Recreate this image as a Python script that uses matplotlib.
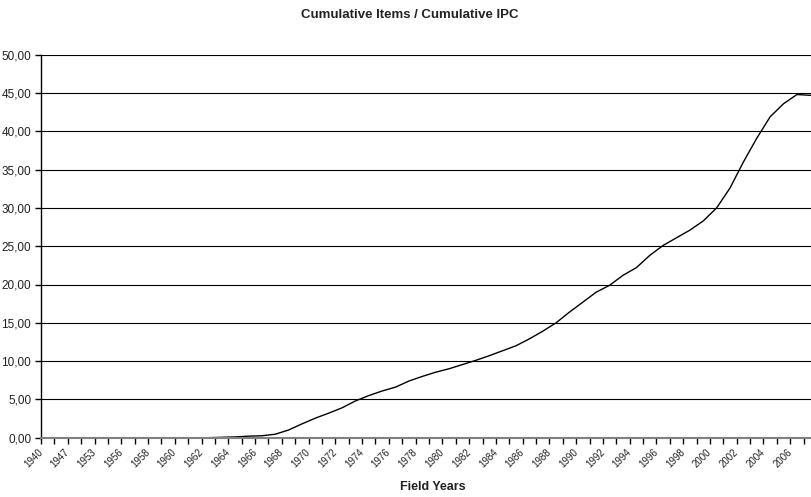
import numpy as np
import matplotlib
matplotlib.use("Agg")
import matplotlib.pyplot as plt
import matplotlib.transforms as mtransforms
from matplotlib.ticker import FixedLocator, FuncFormatter, NullFormatter

plt.rcParams['font.family'] = ['Liberation Sans', 'DejaVu Sans']

# Field years (category axis) and the cumulative ratio per year
years = [1940, 1945, 1947, 1950, 1953, 1955, 1956, 1957, 1958, 1959,
         1960, 1961, 1962, 1963, 1964, 1965, 1966, 1967, 1968, 1969,
         1970, 1971, 1972, 1973, 1974, 1975, 1976, 1977, 1978, 1979,
         1980, 1981, 1982, 1983, 1984, 1985, 1986, 1987, 1988, 1989,
         1990, 1991, 1992, 1993, 1994, 1995, 1996, 1997, 1998, 1999,
         2000, 2001, 2002, 2003, 2004, 2005, 2006, 2007]

ratio = [None] * 12 + [
    0.00, 0.05, 0.10, 0.20, 0.25, 0.45, 1.00, 1.80, 2.55, 3.20,
    3.90, 4.80, 5.50, 6.10, 6.60, 7.40, 8.00, 8.55, 9.00, 9.55,
    10.10, 10.70, 11.35, 12.00, 12.90, 13.90, 15.00, 16.40, 17.70, 19.00,
    19.90, 21.20, 22.20, 23.80, 25.10, 26.10, 27.10, 28.30, 30.00, 32.60,
    36.00, 39.10, 41.90, 43.60, 44.80, 44.70]

y = np.array([np.nan if v is None else v for v in ratio], dtype=float)
x = np.arange(len(years))

fig = plt.figure(figsize=(8.12, 4.97), dpi=100)
ax = fig.add_axes([41 / 812, 1 - 437.7 / 497, 776 / 812, 383 / 497])

ax.plot(x, y, color='black', lw=1.0)

ax.set_xlim(-0.5, len(years) - 0.5)
ax.set_ylim(0, 50)

# horizontal gridlines
ax.set_yticks(np.arange(0, 50.1, 5))
ax.yaxis.set_major_formatter(FuncFormatter(lambda v, p: f"{v:.2f}".replace('.', ',')))
ax.grid(axis='y', color='black', lw=0.8)
ax.set_axisbelow(True)

# category labels on every second year, tick marks between categories
ax.xaxis.set_major_locator(FixedLocator(x[::2]))
ax.set_xticklabels([str(yv) for yv in years[::2]], rotation=45, ha='right', va='top')
ax.xaxis.set_minor_locator(FixedLocator(np.arange(len(years) + 1) - 0.5))
ax.xaxis.set_minor_formatter(NullFormatter())
ax.tick_params(axis='x', which='major', length=0, pad=6.5, labelsize=7, colors='#222222')
ax.tick_params(axis='x', which='minor', length=4, width=1, color='black')
ax.tick_params(axis='y', length=4, width=1, labelsize=8.5, colors='black',
               labelcolor='#222222', pad=3)

shift = mtransforms.ScaledTranslation(-3 / 100, 0, fig.dpi_scale_trans)
for lbl in ax.get_xticklabels():
    lbl.set_transform(lbl.get_transform() + shift)

for s in ('top', 'right'):
    ax.spines[s].set_visible(False)
ax.spines['left'].set_color('black')
ax.spines['left'].set_linewidth(1)
ax.spines['bottom'].set_color('#808080')
ax.spines['bottom'].set_linewidth(1.5)

fig.text(410 / 812, 1 - 14.5 / 497, 'Cumulative Items / Cumulative IPC', ha='center',
         va='center', fontsize=9.5, fontweight='bold', color='#222222')
fig.text(433 / 812, 1 - 487.5 / 497, 'Field Years', ha='center', va='center',
         fontsize=9, fontweight='bold', color='#222222')

fig.savefig('out.png', dpi=100)
